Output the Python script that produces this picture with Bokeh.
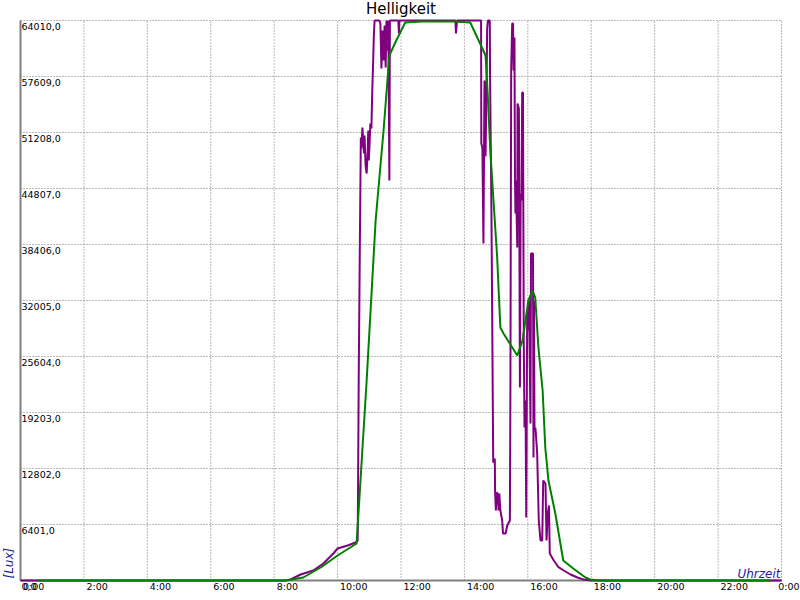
from bokeh.plotting import figure
from bokeh.models import Range1d, LabelSet, ColumnDataSource
from bokeh.core.properties import value
from bokeh.embed import file_html
from bokeh.resources import INLINE

# ---- data ----
x_tick_minutes = [0, 120, 240, 360, 480, 600, 720, 840, 960, 1080, 1200, 1320, 1440]
x_tick_labels = ["0:00", "2:00", "4:00", "6:00", "8:00", "10:00", "12:00",
                 "14:00", "16:00", "18:00", "20:00", "22:00", "0:00"]
y_tick_values = [0, 6401, 12802, 19203, 25604, 32005, 38406, 44807, 51208, 57609, 64010]
y_tick_labels = ["0,0", "6401,0", "12802,0", "19203,0", "25604,0", "32005,0",
                 "38406,0", "44807,0", "51208,0", "57609,0", "64010,0"]

purple_minutes = [0, 501, 511, 530, 554, 573, 592, 600, 619, 634, 638, 638.6, 640, 642, 644,
                  645, 647, 650, 651, 653, 655, 657, 658, 659, 660, 662, 664, 665.5, 667, 668.5,
                  670, 679, 681, 683, 685, 687, 689, 691, 692.5, 694, 696, 698, 699, 715, 716,
                  717, 823, 824, 826, 871.5, 872, 874, 876, 878, 880, 882, 883, 884.5, 888,
                  888.5, 891, 892.5, 894.5, 897.5, 898, 899.5, 900.7, 903, 904.5, 906, 908,
                  911.5, 913, 918, 921, 926, 927, 928.5, 930.4, 932, 933, 934.7, 935.7, 936.6,
                  937.6, 940, 940.5, 943, 943.3, 945, 946.5, 948, 949.3, 950.8, 952.3, 953.7,
                  955.6, 957, 958.8, 959.7, 961.8, 963, 965, 966, 969.8, 970.7, 971.6, 972.6,
                  974.5, 977.7, 978.9, 980.7, 984, 987.2, 989.1, 993.4, 995.4, 997.8, 1000,
                  1001.5, 1009.1, 1018, 1028, 1040.7, 1054, 1065.3, 1080.4, 1440]
purple_lux = [0, 0, 114, 686, 1143, 1943, 3086, 3658, 4001, 4343, 4572, 9030, 23203, 37490, 50635,
              49378, 51778, 48806, 50864, 47435, 46520, 49149, 51435, 48006, 49149, 52235, 51664,
              55664, 58636, 62065,
              64000, 64000, 63665, 58522, 62865, 59436, 63437, 58636, 64000, 60579, 64000, 45720,
              64000, 64000, 62522,
              64000, 64000, 62522, 64000, 64000, 49949, 49492, 38519, 57150, 48463, 57150, 63094,
              64000, 64000,
              57607, 43091, 30861, 13487, 13945, 10287, 8001, 10058, 9944, 8001, 9944, 8001,
              6858, 5372, 5372, 6287, 6858, 21374, 58522, 63665, 63665, 58293, 62065, 45720, 41948,
              45720, 38062, 54521, 53950, 51778, 22060, 44234, 43434, 55778, 55778, 27432, 17488,
              20574, 7201, 30861, 28575, 32004, 28575, 17945, 37376, 37376, 14059, 32004, 17488,
              17374, 14516, 11430, 6858, 4572, 4572, 11430, 11087, 4572, 7658, 8573,
              3086, 2286, 1520, 1143, 686, 343, 114, 0, 0]

green_minutes = [32, 501, 535, 568, 600, 636, 655, 672, 687, 698, 711, 728, 759, 819, 851, 867,
                 880, 884, 889, 895, 902, 908, 914, 940, 950, 961, 969, 974, 980, 988, 993, 999,
                 1012, 1027, 1046, 1069, 1078, 1097, 1419]
green_lux = [0, 0, 343, 1486, 2858, 4229, 22860, 41150, 51435, 60008, 61722, 63779, 63894, 63894,
             63779, 61722, 60008, 55664, 49149, 43434, 36919, 28918, 28232, 25718, 27432, 32004,
             33147, 32347, 26632, 21717, 15202, 11430, 7658, 2286, 1372, 343, 114, 0, 0]

title_text = "Helligkeit"
x_axis_title = "Uhrzeit"
y_axis_title = "[Lux]"

# ---- figure: the frame covers the whole canvas; the chart area spans x 20..781, y 20..580 ----
X0, X1 = x_tick_minutes[0], x_tick_minutes[-1]
Y0, Y1 = y_tick_values[0], y_tick_values[-1]
MIN_PER_PX = (X1 - X0) / 761
LUX_PER_PX = (Y1 - Y0) / 560

p = figure(width=800, height=600, output_backend="svg", toolbar_location=None,
           x_axis_location=None, y_axis_location=None,
           x_range=Range1d(X0 - 20 * MIN_PER_PX, X1 + 19 * MIN_PER_PX),
           y_range=Range1d(Y0 - 20 * LUX_PER_PX, Y1 + 20 * LUX_PER_PX),
           min_border_left=0, min_border_right=0, min_border_top=0, min_border_bottom=0)
p.title.visible = False
p.outline_line_color = None
p.background_fill_color = "white"
p.border_fill_color = "white"
p.xgrid.visible = False
p.ygrid.visible = False

GRID = "#747474"
# dotted grid, bounded to the chart area
p.segment(x0=x_tick_minutes[1:], y0=[Y0] * (len(x_tick_minutes) - 1),
          x1=x_tick_minutes[1:], y1=[Y1] * (len(x_tick_minutes) - 1),
          line_color=GRID, line_width=1, line_dash="1 2")
p.segment(x0=[X0] * (len(y_tick_values) - 1), y0=y_tick_values[1:],
          x1=[X1] * (len(y_tick_values) - 1), y1=y_tick_values[1:],
          line_color=GRID, line_width=1, line_dash="1 2")

# axis lines
p.segment(x0=[X0, X0], y0=[Y0, Y0], x1=[X1, X0], y1=[Y0, Y1], line_color="#808080", line_width=2)

p.line(purple_minutes, purple_lux, line_color="#800080", line_width=2)
p.line(green_minutes, green_lux, line_color="#008000", line_width=2)

TICK_FONT = dict(text_font=value("DejaVu Sans"), text_font_size=value("9.5px"),
                 text_color="black", text_baseline="alphabetic")

ysrc = ColumnDataSource(dict(x=[X0] * len(y_tick_values), y=y_tick_values, t=y_tick_labels))
p.add_layout(LabelSet(x="x", y="y", text="t", source=ysrc, x_offset=1, y_offset=-9,
                      text_align="left", **TICK_FONT))
xsrc = ColumnDataSource(dict(x=x_tick_minutes[:-1], y=[Y0] * (len(x_tick_minutes) - 1),
                             t=x_tick_labels[:-1]))
p.add_layout(LabelSet(x="x", y="y", text="t", source=xsrc, x_offset=2.5, y_offset=-9,
                      text_align="left", **TICK_FONT))
# last tick label (24:00 -> "0:00") kept inside the canvas
xsrc_end = ColumnDataSource(dict(x=x_tick_minutes[-1:], y=[Y0], t=x_tick_labels[-1:]))
p.add_layout(LabelSet(x="x", y="y", text="t", source=xsrc_end, x_offset=18, y_offset=-9,
                      text_align="right", **TICK_FONT))

tsrc = ColumnDataSource(dict(x=[(X0 + X1) / 2], y=[Y1], t=[title_text]))
p.add_layout(LabelSet(x="x", y="y", text="t", source=tsrc, y_offset=6.5, text_align="center",
                      text_baseline="alphabetic", text_font=value("DejaVu Sans"),
                      text_font_size=value("15px"), text_color="black"))
usrc = ColumnDataSource(dict(x=[X1], y=[Y0], t=[x_axis_title]))
p.add_layout(LabelSet(x="x", y="y", text="t", source=usrc, x_offset=-1, y_offset=3, text_align="right",
                      text_baseline="alphabetic", text_font=value("DejaVu Sans"),
                      text_font_style="italic", text_font_size=value("12px"), text_color="#2323a0"))
lsrc = ColumnDataSource(dict(x=[X0], y=[Y0], t=[y_axis_title]))
p.add_layout(LabelSet(x="x", y="y", text="t", source=lsrc, angle=90, angle_units="deg",
                      x_offset=-8, y_offset=2, text_align="left",
                      text_baseline="alphabetic", text_font=value("DejaVu Sans"),
                      text_font_style="italic", text_font_size=value("12px"), text_color="#2323a0"))

open("out.html", "w").write(file_html(p, INLINE))
